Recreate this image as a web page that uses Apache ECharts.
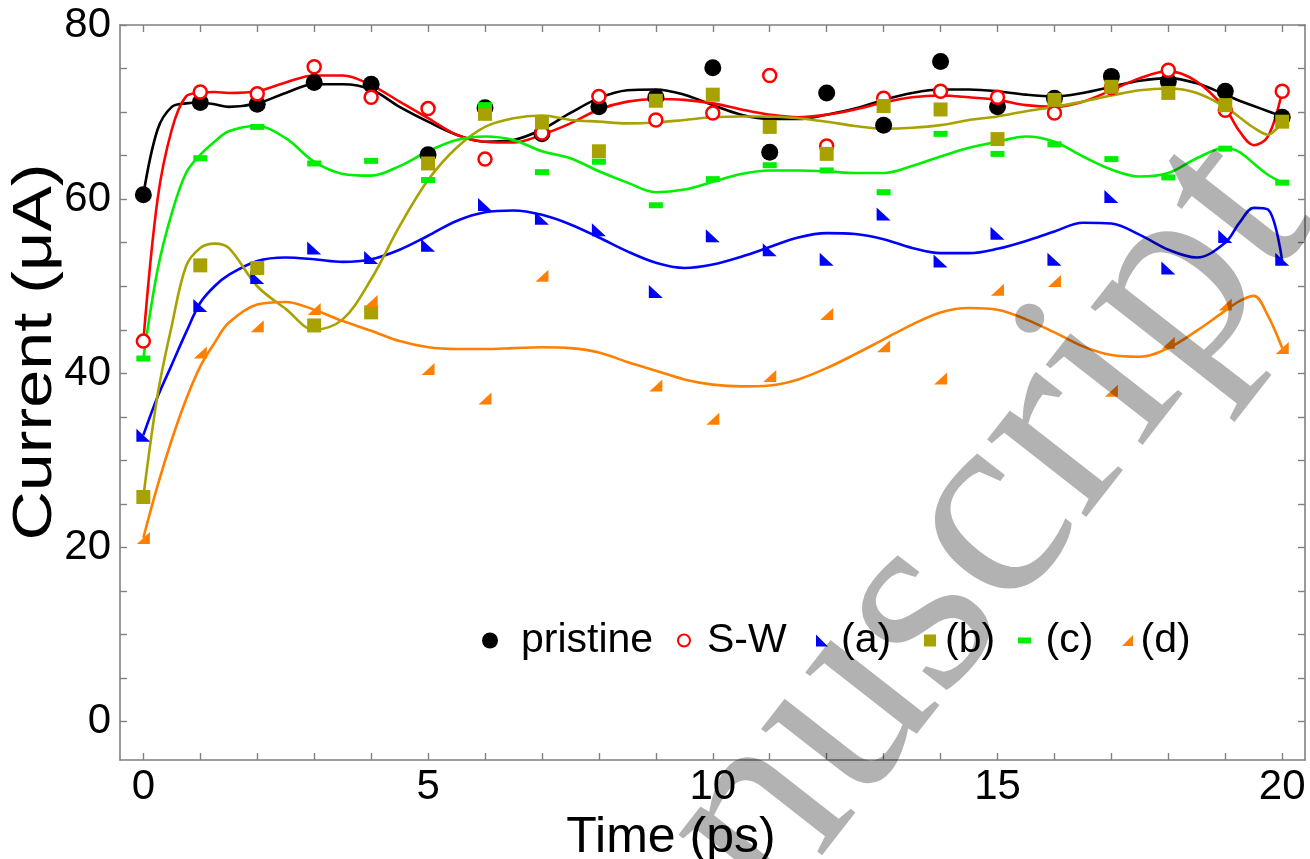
<!DOCTYPE html>
<html>
<head>
<meta charset="utf-8">
<title>Current vs time</title>
<script src="https://cdn.jsdelivr.net/npm/echarts@6/dist/echarts.min.js"></script>
<style>
  html, body { margin: 0; padding: 0; background: #ffffff; }
  #chart { width: 1310px; height: 859px; }
</style>
</head>
<body>
<div id="chart"></div>
<script>
// Simulation time points (ps)
const times = [0, 1, 2, 3, 4, 5, 6, 7, 8, 9, 10, 11, 12, 13, 14, 15, 16, 17, 18, 19, 20];

// Measured current (µA) for each structure
const pristine = [60.5, 71.1, 70.9, 73.4, 73.2, 65.1, 70.5, 67.5, 70.6, 71.7, 75.1, 65.4, 72.2, 68.5, 75.8, 70.6, 71.6, 74.1, 73.5, 72.4, 69.4];
const stoneWales = [43.7, 72.3, 72.1, 75.2, 71.7, 70.4, 64.6, 67.6, 71.8, 69.1, 69.9, 74.2, 66.1, 71.6, 72.4, 71.7, 69.9, 72.8, 74.8, 70.2, 72.4];
const caseA = [32.9, 47.8, 51.0, 54.4, 53.3, 54.7, 59.4, 57.8, 56.5, 49.4, 55.8, 54.2, 53.1, 58.3, 52.9, 56.1, 53.1, 60.3, 52.1, 55.7, 53.1];
const caseB = [25.8, 52.4, 52.1, 45.5, 47.0, 64.1, 69.8, 68.8, 65.5, 71.3, 72.0, 68.3, 65.2, 70.7, 70.3, 66.9, 71.4, 72.9, 72.2, 70.8, 68.9];
const caseC = [41.7, 64.7, 68.3, 64.1, 64.4, 62.2, 70.8, 63.1, 64.3, 59.3, 62.3, 63.9, 63.3, 60.8, 67.5, 65.2, 66.3, 64.6, 62.5, 65.8, 61.9];
const caseD = [21.1, 42.4, 45.4, 47.4, 48.3, 40.5, 37.1, 51.2, null, 38.6, 34.8, 39.7, 46.8, 43.1, 39.4, 49.6, 50.6, 38.0, 43.5, 47.9, 42.9];

// Smoothed trend curves, sampled along time
const fitTimes = [0, 0.25, 0.5, 0.75, 1, 1.25, 1.5, 2, 2.5, 3, 3.5, 4, 4.5, 5, 5.5, 6, 6.5, 7, 7.5, 8, 8.5, 9, 9.5, 10, 10.5, 11, 11.5, 12, 12.5, 13, 13.5, 14, 14.5, 15, 15.5, 16, 16.5, 17, 17.5, 18, 18.5, 19, 19.25, 19.5, 19.75, 20];
const pristineFit = [60.5, 68.0, 70.6, 71.0, 71.1, 70.9, 70.6, 71.0, 72.2, 73.2, 73.2, 72.6, 70.6, 68.9, 67.4, 66.6, 66.8, 68.0, 69.9, 71.6, 72.5, 72.6, 72.0, 70.8, 69.7, 69.2, 69.2, 69.7, 70.4, 71.4, 72.2, 72.6, 72.6, 72.4, 72.0, 71.8, 72.2, 72.9, 73.6, 73.9, 73.3, 72.0, 71.3, 70.7, 70.1, 69.5];
const stoneWalesFit = [43.7, 60.0, 68.0, 71.8, 72.2, 72.3, 72.2, 72.4, 73.4, 74.2, 74.2, 73.1, 71.2, 69.3, 67.4, 66.6, 66.5, 67.4, 68.7, 70.3, 71.2, 71.5, 71.4, 71.0, 70.3, 69.7, 69.4, 69.7, 70.3, 71.1, 71.7, 71.9, 71.7, 71.4, 70.8, 70.6, 71.2, 72.5, 73.9, 74.7, 73.5, 70.4, 67.8, 66.2, 67.2, 72.4];
const caseAFit = [32.9, 37.3, 41.0, 44.7, 48.1, 50.0, 51.3, 52.9, 53.3, 53.1, 52.8, 53.1, 54.2, 55.8, 57.5, 58.5, 58.7, 58.2, 57.1, 55.6, 54.0, 52.7, 52.1, 52.5, 53.4, 54.5, 55.6, 56.1, 56.0, 55.4, 54.4, 53.8, 53.8, 54.3, 55.2, 56.3, 57.3, 57.2, 55.9, 54.2, 53.3, 55.0, 57.3, 59.0, 58.8, 52.9];
const caseBFit = [25.8, 37.5, 45.5, 52.3, 54.4, 54.9, 54.4, 50.0, 47.4, 45.0, 46.2, 50.8, 56.9, 62.2, 65.9, 68.3, 69.3, 69.6, 69.1, 68.9, 68.7, 68.8, 69.1, 69.4, 69.5, 69.5, 69.3, 68.9, 68.4, 68.1, 68.2, 68.5, 69.1, 69.5, 70.1, 70.6, 71.2, 71.9, 72.5, 72.7, 72.2, 70.6, 69.4, 68.2, 67.4, 68.9];
const caseCFit = [41.7, 51.9, 58.4, 63.0, 65.1, 66.6, 67.8, 68.4, 67.0, 64.3, 62.9, 62.7, 63.8, 65.5, 66.8, 67.2, 66.8, 65.5, 64.7, 63.2, 61.9, 60.8, 61.1, 62.0, 62.9, 63.3, 63.3, 63.2, 63.0, 63.0, 63.8, 64.9, 65.9, 66.6, 67.2, 66.6, 64.9, 63.4, 62.6, 63.0, 64.7, 65.9, 65.4, 64.1, 62.8, 61.9];
const caseDFit = [21.1, 27.1, 32.4, 37.0, 40.8, 43.5, 45.8, 47.9, 48.2, 47.3, 46.0, 44.9, 43.7, 43.0, 42.8, 42.8, 42.9, 43.0, 42.9, 42.4, 41.3, 40.3, 39.3, 38.7, 38.5, 38.6, 39.3, 40.6, 42.2, 43.9, 45.6, 47.0, 47.5, 47.3, 46.2, 44.7, 43.1, 42.1, 41.9, 42.9, 44.9, 47.2, 48.3, 48.9, 46.6, 42.9];

// Axis ticks and labels
const xLabelValues = [0, 5, 10, 15, 20];
const xTickValues = [0, 1, 2, 3, 4, 5, 6, 7, 8, 9, 10, 11, 12, 13, 14, 15, 16, 17, 18, 19, 20];
const yLabelValues = [0, 20, 40, 60, 80];
const yTickValues = [0, 5, 10, 15, 20, 25, 30, 35, 40, 45, 50, 55, 60, 65, 70, 75, 80];

const FONT = '"Liberation Sans", Arial, Helvetica, sans-serif';
const TRI_LEFT = 'path://M0,0 L0,10 L10,10 Z';
const TRI_RIGHT = 'path://M10,0 L10,10 L0,10 Z';
const DASH = 'path://M0,0 L13,0 L13,6 L0,6 Z';

const styles = [
  { name: 'pristine', pts: pristine, fit: pristineFit, color: '#000000', symbol: 'circle', size: 17 },
  { name: 'S-W', pts: stoneWales, fit: stoneWalesFit, color: '#ff0000', symbol: 'circle', size: 13, hollow: true },
  { name: '(a)', pts: caseA, fit: caseAFit, color: '#0000ff', symbol: TRI_LEFT, size: [14, 13] },
  { name: '(b)', pts: caseB, fit: caseBFit, color: '#a8a200', symbol: 'rect', size: [14, 14] },
  { name: '(c)', pts: caseC, fit: caseCFit, color: '#00ee00', symbol: 'rect', size: [14, 6] },
  { name: '(d)', pts: caseD, fit: caseDFit, color: '#ff8000', symbol: TRI_RIGHT, size: [13, 12] }
];

function pairs(xs, ys) {
  const out = [];
  xs.forEach((x, i) => { if (ys[i] !== null && ys[i] !== undefined) out.push([x, ys[i]]); });
  return out;
}

const lineSeries = styles.map(s => ({
  name: s.name + ' trend',
  type: 'line',
  xAxisIndex: 0, yAxisIndex: 0,
  data: pairs(fitTimes, s.fit),
  smooth: 0.35,
  showSymbol: false,
  silent: true,
  lineStyle: { color: s.color, width: 2.6 },
  itemStyle: { color: s.color },
  z: 2
}));

const pointSeries = styles.map(s => ({
  name: s.name,
  type: 'scatter',
  xAxisIndex: 0, yAxisIndex: 0,
  data: pairs(times, s.pts),
  symbol: s.symbol,
  symbolSize: s.size,
  itemStyle: s.hollow
    ? { color: '#ffffff', borderColor: s.color, borderWidth: 2.5, opacity: 1 }
    : { color: s.color, opacity: 1 },
  z: 3
}));

// One legend box per entry so each marker sits where it belongs in the key row
const legendRowTop = 620;
const legendItems = [
  { name: 'pristine', icon: 'circle', left: 482, w: 52, h: 16 },
  { name: 'S-W', icon: 'circle', left: 677, w: 36, h: 12, itemStyle: { color: '#ffffff', borderColor: '#ff0000', borderWidth: 2 } },
  { name: '(a)', icon: TRI_LEFT, left: 816, w: 28, h: 12 },
  { name: '(b)', icon: 'path://M0,0 L10,0 L10,10 L0,10 Z', left: 924, w: 20, h: 12 },
  { name: '(c)', icon: DASH, left: 1018, w: 32, h: 6 },
  { name: '(d)', icon: TRI_RIGHT, left: 1122, w: 16, h: 11 }
];
const legends = legendItems.map(it => ({
  data: [Object.assign({ name: it.name, icon: it.icon }, it.itemStyle ? { itemStyle: it.itemStyle } : {})],
  left: it.left,
  top: legendRowTop,
  padding: 0,
  itemWidth: it.w,
  itemHeight: it.h,
  symbolKeepAspect: true,
  itemStyle: { opacity: 1 },
  textStyle: { fontFamily: FONT, fontSize: 41, color: '#000000' }
}));

const frameLine = { show: true, onZero: false, lineStyle: { color: '#808080', width: 1.6 } };
const tickStyle = { color: '#808080', width: 1.4 };

const X_MIN = -0.41, X_MAX = 20.4, Y_MIN = -4.4, Y_MAX = 80;

const option = {
  animation: false,
  backgroundColor: '#ffffff',
  grid: { left: 120, right: 5, top: 25, bottom: 99 },
  legend: legends,
  xAxis: [
    {
      type: 'value', position: 'bottom', min: X_MIN, max: X_MAX,
      axisLine: frameLine,
      axisTick: { show: true, inside: true, length: 7, customValues: xTickValues, lineStyle: tickStyle },
      axisLabel: { customValues: xLabelValues, fontFamily: FONT, fontSize: 42, color: '#000000', margin: 6 },
      splitLine: { show: false }
    },
    {
      type: 'value', position: 'top', min: X_MIN, max: X_MAX,
      axisLine: frameLine,
      axisTick: { show: true, inside: true, length: 7, customValues: xTickValues, lineStyle: tickStyle },
      axisLabel: { show: false },
      splitLine: { show: false }
    }
  ],
  yAxis: [
    {
      type: 'value', position: 'left', min: Y_MIN, max: Y_MAX,
      axisLine: frameLine,
      axisTick: { show: true, inside: true, length: 7, customValues: yTickValues, lineStyle: tickStyle },
      axisLabel: { customValues: yLabelValues, fontFamily: FONT, fontSize: 42, color: '#000000', margin: 9 },
      splitLine: { show: false }
    },
    {
      type: 'value', position: 'right', min: Y_MIN, max: Y_MAX,
      axisLine: frameLine,
      axisTick: { show: true, inside: true, length: 7, customValues: yTickValues, lineStyle: tickStyle },
      axisLabel: { show: false },
      splitLine: { show: false }
    }
  ],
  graphic: [
    {
      type: 'text', x: 671, y: 838, silent: true,
      style: { text: 'Time (ps)', font: '50px ' + FONT, fill: '#000000', align: 'center', verticalAlign: 'middle' }
    },
    {
      type: 'text', x: 36, y: 352, rotation: Math.PI / 2, scaleX: 1.22, silent: true,
      style: { text: 'Current (\u03bcA)', font: '56px ' + FONT, fill: '#000000', align: 'center', verticalAlign: 'middle' }
    },
    {
      type: 'text', x: 600, y: 1245, rotation: 52 * Math.PI / 180, silent: true, z: 100,
      style: { text: 'Manuscript', font: '274px "Liberation Serif", "Times New Roman", serif', fill: 'rgba(0,0,0,0.3)', align: 'left', verticalAlign: 'bottom' }
    }
  ],
  series: lineSeries.concat(pointSeries)
};

const chart = echarts.init(document.getElementById('chart'), null, { renderer: 'canvas' });
chart.setOption(option);
</script>
</body>
</html>
